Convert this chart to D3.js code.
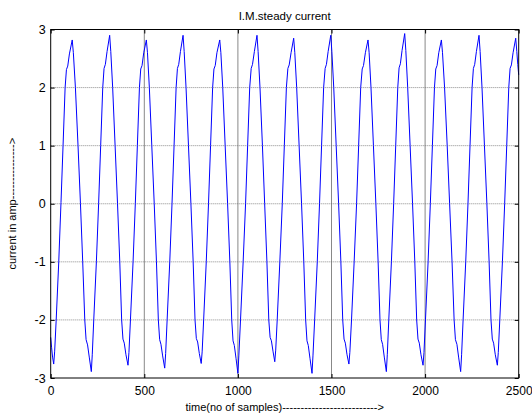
<!DOCTYPE html>
<html>
<head>
<meta charset="utf-8">
<script src="https://cdn.jsdelivr.net/npm/d3@7"></script>
<style>
  body { margin: 0; background: #fff; }
  svg text { font-family: "Liberation Sans", Arial, Helvetica, sans-serif; fill: #000; }
</style>
</head>
<body>
<div id="chart"></div>
<script>
// tick labels
const xTicks = [0, 500, 1000, 1500, 2000, 2500];
const yTicks = [-3, -2, -1, 0, 1, 2, 3];

// current waveform: [sample, amp]
const current = [
  [0,-2.30],[5,-2.48],[10,-2.64],[16,-2.76],
  [21,-2.55],[29,-2.02],[43,-1.0],[55,0.02],[66,1.0],[77,2.0],[84,2.31],[91,2.37],[100,2.58],[115,2.82],
  [121,2.6],[132,2.0],[146,1.0],[159,0.0],[171,-1.0],[182,-2.0],[189,-2.34],[197,-2.43],[206,-2.64],[217,-2.89],
  [222,-2.6],[230,-2.0],[244,-1.0],[256,0.0],[267,1.0],[278,2.0],[285,2.33],[292,2.40],[301,2.62],[315,2.90],
  [321,2.62],[331,2.0],[344,1.0],[357,0.0],[369,-1.0],[379,-2.0],[386,-2.33],[393,-2.40],[402,-2.6],[413,-2.78],
  [418,-2.56],[426,-2.0],[440,-1.0],[452,0.0],[463,1.0],[474,2.0],[481,2.32],[488,2.38],[497,2.6],[511,2.82],
  [517,2.6],[527,2.0],[540,1.0],[553,0.0],[565,-1.0],[575,-2.0],[582,-2.34],[589,-2.42],[598,-2.62],[609,-2.83],
  [614,-2.58],[622,-2.0],[636,-1.0],[648,0.0],[659,1.0],[670,2.0],[677,2.33],[684,2.40],[693,2.62],[707,2.90],
  [713,2.62],[723,2.0],[736,1.0],[749,0.0],[761,-1.0],[771,-2.0],[778,-2.32],[785,-2.38],[794,-2.58],[804,-2.75],
  [809,-2.55],[817,-2.0],[831,-1.0],[843,0.0],[854,1.0],[865,2.0],[872,2.32],[879,2.38],[888,2.6],[903,2.82],
  [909,2.6],[919,2.0],[932,1.0],[945,0.0],[957,-1.0],[967,-2.0],[974,-2.36],[981,-2.44],[990,-2.66],[1000,-2.92],
  [1005,-2.62],[1014,-2.0],[1028,-1.0],[1041,0.0],[1052,1.0],[1063,2.0],[1071,2.33],[1078,2.40],[1088,2.62],[1102,2.90],
  [1108,2.62],[1118,2.0],[1131,1.0],[1143,0.0],[1155,-1.0],[1165,-2.0],[1172,-2.30],[1179,-2.36],[1188,-2.55],[1197,-2.72],
  [1202,-2.52],[1210,-2.0],[1224,-1.0],[1237,0.0],[1248,1.0],[1259,2.0],[1267,2.33],[1274,2.39],[1284,2.6],[1298,2.85],
  [1304,2.6],[1314,2.0],[1327,1.0],[1340,0.0],[1352,-1.0],[1362,-2.0],[1369,-2.36],[1376,-2.44],[1385,-2.66],[1396,-2.92],
  [1401,-2.62],[1410,-2.0],[1424,-1.0],[1436,0.0],[1447,1.0],[1458,2.0],[1466,2.33],[1473,2.40],[1482,2.62],[1496,2.90],
  [1502,2.62],[1512,2.0],[1525,1.0],[1538,0.0],[1550,-1.0],[1560,-2.0],[1567,-2.33],[1574,-2.40],[1583,-2.6],[1593,-2.76],
  [1598,-2.56],[1607,-2.0],[1621,-1.0],[1634,0.0],[1645,1.0],[1656,2.0],[1664,2.32],[1671,2.38],[1681,2.6],[1695,2.82],
  [1701,2.6],[1711,2.0],[1724,1.0],[1737,0.0],[1749,-1.0],[1759,-2.0],[1766,-2.34],[1773,-2.42],[1782,-2.64],[1793,-2.89],
  [1798,-2.6],[1806,-2.0],[1820,-1.0],[1832,0.0],[1843,1.0],[1854,2.0],[1861,2.34],[1868,2.41],[1877,2.64],[1891,2.93],
  [1897,2.64],[1907,2.0],[1920,1.0],[1933,0.0],[1945,-1.0],[1955,-2.0],[1962,-2.33],[1969,-2.40],[1978,-2.6],[1989,-2.78],
  [1994,-2.56],[2002,-2.0],[2016,-1.0],[2028,0.0],[2039,1.0],[2050,2.0],[2057,2.32],[2064,2.38],[2073,2.6],[2087,2.82],
  [2093,2.6],[2104,2.0],[2118,1.0],[2131,0.0],[2144,-1.0],[2155,-2.0],[2162,-2.34],[2170,-2.42],[2179,-2.64],[2190,-2.89],
  [2195,-2.6],[2203,-2.0],[2217,-1.0],[2229,0.0],[2240,1.0],[2251,2.0],[2258,2.33],[2265,2.40],[2274,2.62],[2288,2.90],
  [2294,2.62],[2304,2.0],[2317,1.0],[2330,0.0],[2342,-1.0],[2352,-2.0],[2359,-2.33],[2366,-2.40],[2375,-2.6],[2386,-2.78],
  [2391,-2.56],[2399,-2.0],[2413,-1.0],[2425,0.0],[2436,1.0],[2447,2.0],[2454,2.33],[2461,2.39],[2470,2.6],[2484,2.85],
  [2490,2.62],[2495,2.4],[2500,2.22]
];

const width = 532;
const height = 418;
const margin = { left: 50.7, right: 13.3, top: 29.5, bottom: 40 };

const svg = d3.select('#chart')
    .append('svg')
    .attr('width', width)
    .attr('height', height);

const x = d3.scaleLinear()
    .domain([0, 2500])
    .range([margin.left, width - margin.right]);

const y = d3.scaleLinear()
    .domain([-3, 3])
    .range([height - margin.bottom, margin.top]);

// grid lines
svg.append('g')
    .selectAll('line')
    .data(yTicks.slice(1, -1))
    .enter()
    .append('line')
    .attr('x1', x(0))
    .attr('x2', x(2500))
    .attr('y1', d => y(d))
    .attr('y2', d => y(d))
    .attr('stroke', '#8c8c8c')
    .attr('stroke-dasharray', '1,1');

svg.append('g')
    .selectAll('line')
    .data(xTicks.slice(1, -1))
    .enter()
    .append('line')
    .attr('x1', d => x(d))
    .attr('x2', d => x(d))
    .attr('y1', y(-3))
    .attr('y2', y(3))
    .attr('stroke', '#6a6a6a')
    .attr('stroke-width', 0.8);

// the current trace
const line = d3.line()
    .x(d => x(d[0]))
    .y(d => y(d[1]));

svg.append('path')
    .datum(current)
    .attr('fill', 'none')
    .attr('stroke', '#0000ff')
    .attr('stroke-width', 1)
    .attr('d', line);

// axes with inward ticks on all four sides
const tickLen = -4;
const fmt = d => String(d);   // plain hyphen minus, like the original

const xAxis = svg.append('g')
    .attr('transform', `translate(0,${y(-3)})`)
    .call(d3.axisBottom(x).tickValues(xTicks).tickSize(tickLen).tickPadding(8).tickFormat(fmt));

const yAxis = svg.append('g')
    .attr('transform', `translate(${x(0)},0)`)
    .call(d3.axisLeft(y).tickValues(yTicks).tickSize(tickLen).tickPadding(5).tickFormat(fmt));

svg.append('g')
    .attr('transform', `translate(0,${y(3)})`)
    .call(d3.axisTop(x).tickValues(xTicks).tickSize(tickLen).tickFormat(''));

svg.append('g')
    .attr('transform', `translate(${x(2500)},0)`)
    .call(d3.axisRight(y).tickValues(yTicks).tickSize(tickLen).tickFormat(''));

svg.selectAll('.domain').remove();
svg.selectAll('.tick line').attr('stroke', '#000');
xAxis.selectAll('text').style('font-size', '12px');
yAxis.selectAll('text').style('font-size', '12.5px');

// plot box
svg.append('rect')
    .attr('x', x(0))
    .attr('y', y(3))
    .attr('width', x(2500) - x(0))
    .attr('height', y(-3) - y(3))
    .attr('fill', 'none')
    .attr('stroke', '#000')
    .attr('stroke-width', 1);

// title and labels
svg.append('text')
    .attr('x', (x(0) + x(2500)) / 2)
    .attr('y', 20)
    .attr('text-anchor', 'middle')
    .style('font-size', '11.5px')
    .text('I.M.steady current');

svg.append('text')
    .attr('x', (x(0) + x(2500)) / 2)
    .attr('y', 411)
    .attr('text-anchor', 'middle')
    .style('font-size', '11px')
    .text('time(no of samples)-------------------------->');

svg.append('text')
    .attr('transform', `translate(16,${(y(3) + y(-3)) / 2}) rotate(-90)`)
    .attr('text-anchor', 'middle')
    .style('font-size', '11px')
    .text('current in amp--------------->');
</script>
</body>
</html>
